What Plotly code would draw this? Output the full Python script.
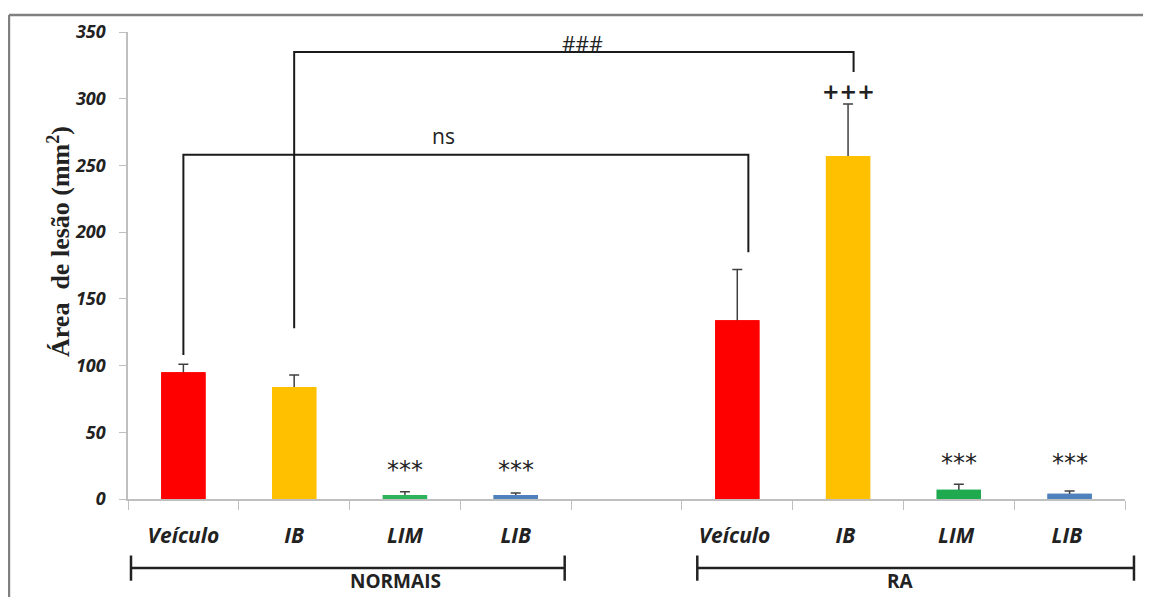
import plotly.graph_objects as go

# ---- data ----
categories = ["Veículo", "IB", "LIM", "LIB", "  ", "Veículo ", "IB ", "LIM ", "LIB "]
values = [95, 84, 3, 3, None, 134, 257, 7, 4]
errors = [6, 9, 2.5, 1.5, None, 38, 39, 4, 2]
colors = ["#ff0000", "#ffc000", "#2db35a", "#4f81bd", "#ffffff",
          "#ff0000", "#ffc000", "#1faa4f", "#4f81bd"]
y_ticks = [0, 50, 100, 150, 200, 250, 300, 350]

# significance markers (category index, y value, text)
star_x = [2, 3, 7, 8]
star_y = [22, 22, 27, 27]
plus_x, plus_y = 6, 305

# comparison brackets: (x_left, y_left_end, x_right, y_right_end, y_top, label, label_x, label_y)
brackets = [
    (0, 108, 5.1, 185, 258, "ns", 2.35, 272),
    (1, 128, 6.05, 320, 335, "###", 3.6, 341),
]

# group brackets (paper coords)
groups = [("NORMAIS", 0.003, 0.438), ("RA", 0.571, 1.009)]

fig = go.Figure()
# bars carrying the error bars (lower half hidden by the overlay bars below)
fig.add_trace(go.Bar(
    x=categories, y=values,
    marker=dict(color=colors, line=dict(width=0)),
    width=0.4,
    error_y=dict(type="data", array=errors, symmetric=False,
                 arrayminus=values,
                 color="#404040", thickness=1.5, width=5),
    showlegend=False, hoverinfo="skip",
))
fig.add_trace(go.Bar(
    x=categories, y=values,
    marker=dict(color=colors, line=dict(width=0)),
    width=0.4, showlegend=False,
))

shapes = []
for xl, yl, xr, yr, yt, lab, lx, ly in brackets:
    shapes.append(dict(type="path", xref="x", yref="y",
                       path=f"M {xl},{yl} L {xl},{yt} L {xr},{yt} L {xr},{yr}",
                       line=dict(color="#1a1a1a", width=2)))

annotations = []
for xl, yl, xr, yr, yt, lab, lx, ly in brackets:
    annotations.append(dict(x=lx, y=ly, xref="x", yref="y", text=lab, showarrow=False,
                            font=dict(family="Open Sans", size=21, color="#222")))

for sx, sy in zip(star_x, star_y):
    annotations.append(dict(x=sx, y=sy, xref="x", yref="y", text="***", showarrow=False,
                            font=dict(family="DejaVu Sans", size=24, color="#222")))
annotations.append(dict(x=plus_x, y=plus_y, xref="x", yref="y", text="+++", showarrow=False,
                        font=dict(family="DejaVu Sans", size=21, color="#222", weight="bold")))

gy = -0.148
for name, x0, x1 in groups:
    shapes.append(dict(type="line", xref="paper", yref="paper", x0=x0, x1=x1, y0=gy, y1=gy,
                       line=dict(color="#222", width=2.5)))
    for xx in (x0, x1):
        shapes.append(dict(type="line", xref="paper", yref="paper", x0=xx, x1=xx,
                           y0=gy - 0.027, y1=gy + 0.027, line=dict(color="#222", width=2.5)))
    annotations.append(dict(x=(x0 + x1) / 2, y=-0.176, xref="paper", yref="paper",
                            text=name, showarrow=False, yanchor="middle",
                            font=dict(family="Open Sans", size=19, color="#222", weight="bold")))

# outer frame (left and top)
shapes.append(dict(type="line", xref="paper", yref="paper", x0=-0.1194, x1=1.03,
                   y0=1.0364, y1=1.0364, line=dict(color="#808080", width=2.5)))
shapes.append(dict(type="line", xref="paper", yref="paper", x0=-0.1194, x1=-0.1194,
                   y0=1.0364, y1=-0.22, line=dict(color="#808080", width=2.5)))

# y title
annotations.append(dict(x=-0.088, y=0.552, xref="paper", yref="paper",
                        text="Área  de lesão (mm<sup>2</sup>)", textangle=-90, showarrow=False,
                        font=dict(family="Liberation Serif", size=26, color="#222", weight="bold")))

fig.update_layout(
    width=1143, height=589,
    margin=dict(l=120, r=26, t=24, b=98),
    paper_bgcolor="white", plot_bgcolor="white",
    shapes=shapes, annotations=annotations,
    barmode="overlay",
)
fig.update_xaxes(
    type="category", categoryorder="array", categoryarray=categories,
    showline=True, linecolor="#bfbfbf", linewidth=1.5,
    ticks="outside", tickson="boundaries", ticklen=9, tickcolor="#bfbfbf",
    ticklabelstandoff=17,
    tickfont=dict(family="Open Sans", size=21, color="#222", weight="bold", style="italic"),
    showgrid=False, zeroline=False,
)
fig.update_yaxes(
    range=[0, 350], tickvals=y_ticks, ticktext=[str(t) for t in y_ticks],
    showline=True, linecolor="#bfbfbf", linewidth=1.5,
    ticks="outside", ticklen=7, tickcolor="#bfbfbf", ticklabelstandoff=10,
    tickfont=dict(family="Open Sans", size=18, color="#222", weight="bold", style="italic"),
    showgrid=False, zeroline=False,
)

fig.write_html("out.html")
